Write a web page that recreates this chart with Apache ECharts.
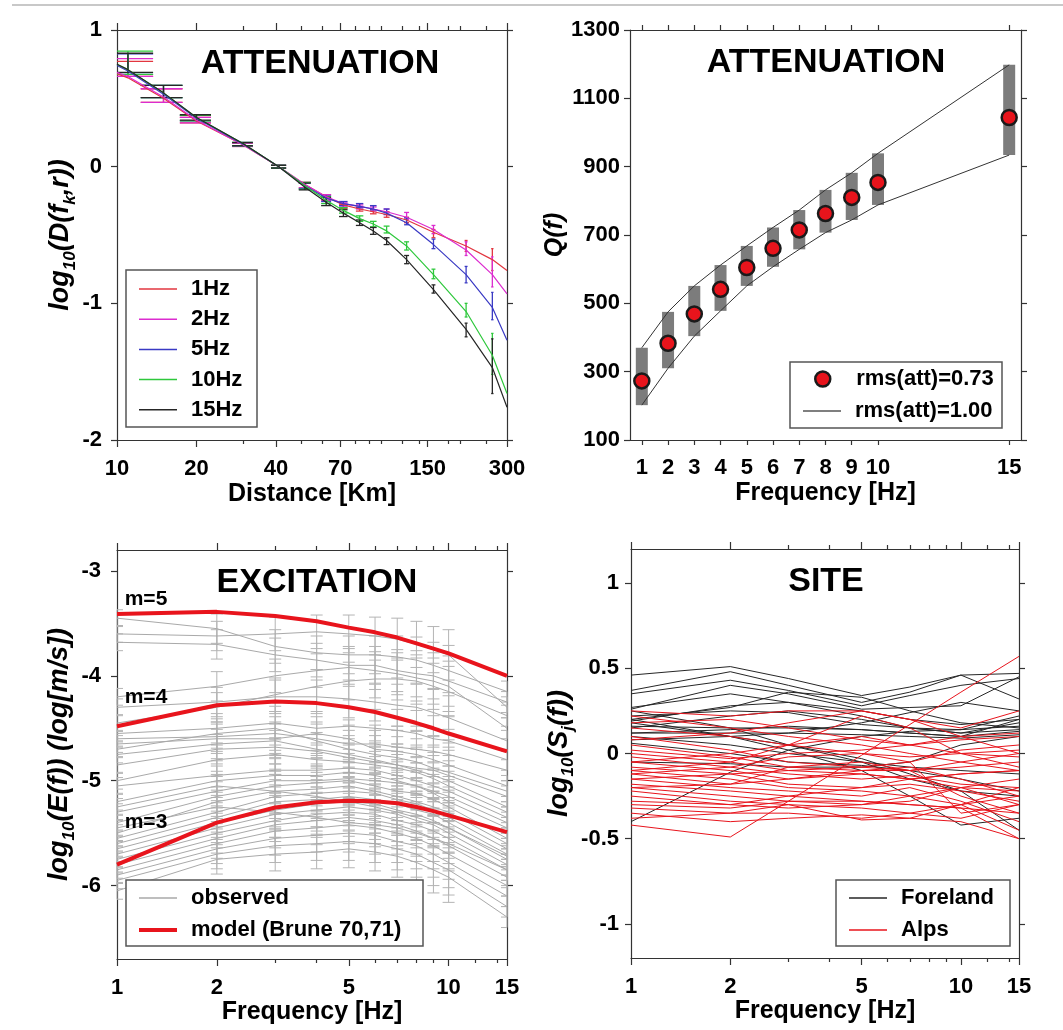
<!DOCTYPE html>
<html>
<head>
<meta charset="utf-8">
<title>Attenuation, excitation and site terms</title>
<script src="https://cdn.jsdelivr.net/npm/echarts@6.0.0/dist/echarts.min.js"></script>
<style>
  html, body { margin: 0; padding: 0; background: #ffffff; }
  #chart { width: 1063px; height: 1030px; }
</style>
</head>
<body>
<div id="chart"></div>
<script>
const lg = Math.log10;
const FONT = "'Liberation Sans', Arial, Helvetica, sans-serif";

// ---------- Attenuation: log10 D(f,r) against distance ----------
const attLabels = ['1Hz', '2Hz', '5Hz', '10Hz', '15Hz'];
const attColors = ['#e2363f', '#dc2ccf', '#3a3ac4', '#2ec83c', '#262626'];
const curveDist = [10, 11, 15, 20, 30, 41, 51.5, 62, 72, 83, 93.5, 105, 125, 158, 210, 264, 300];
const curve1Hz  = [0.68, 0.65, 0.50, 0.335, 0.16, 0.0, -0.13, -0.22, -0.28, -0.31, -0.33, -0.35, -0.39, -0.48, -0.58, -0.68, -0.76];
const curve2Hz  = [0.69, 0.66, 0.51, 0.34, 0.16, 0.0, -0.13, -0.22, -0.27, -0.29, -0.31, -0.33, -0.37, -0.46, -0.61, -0.79, -0.93];
const curve5Hz  = [0.74, 0.70, 0.53, 0.355, 0.165, 0.0, -0.14, -0.23, -0.27, -0.29, -0.31, -0.34, -0.41, -0.57, -0.79, -1.03, -1.27];
const curve10Hz = [0.75, 0.71, 0.54, 0.36, 0.17, 0.0, -0.14, -0.245, -0.32, -0.38, -0.42, -0.47, -0.58, -0.79, -1.06, -1.38, -1.66];
const curve15Hz = [0.75, 0.71, 0.54, 0.36, 0.17, 0.0, -0.15, -0.26, -0.34, -0.41, -0.47, -0.54, -0.68, -0.90, -1.19, -1.47, -1.76];

const binDist = [11, 15, 20, 30, 41, 51.5, 62, 72, 83, 93.5, 105, 125, 158, 210, 264];
const obsMean1Hz  = [0.715, 0.52, 0.34, 0.16, 0.0, -0.135, -0.225, -0.29, -0.31, -0.33, -0.35, -0.39, -0.49, -0.58, -0.68];
const obsErr1Hz   = [0.055, 0.05, 0.02, 0.012, 0.01, 0.02, 0.02, 0.015, 0.015, 0.015, 0.02, 0.02, 0.03, 0.04, 0.08];
const obsMean2Hz  = [0.725, 0.52, 0.34, 0.16, 0.0, -0.135, -0.225, -0.28, -0.295, -0.31, -0.33, -0.36, -0.46, -0.60, -0.77];
const obsErr2Hz   = [0.065, 0.05, 0.02, 0.012, 0.01, 0.02, 0.02, 0.015, 0.015, 0.015, 0.02, 0.025, 0.03, 0.05, 0.11];
const obsMean5Hz  = [0.75, 0.55, 0.355, 0.165, 0.0, -0.14, -0.235, -0.27, -0.285, -0.30, -0.33, -0.40, -0.565, -0.79, -1.02];
const obsErr5Hz   = [0.075, 0.045, 0.02, 0.012, 0.01, 0.02, 0.02, 0.015, 0.015, 0.015, 0.02, 0.025, 0.035, 0.06, 0.10];
const obsMean10Hz = [0.76, 0.55, 0.355, 0.165, 0.0, -0.14, -0.245, -0.32, -0.38, -0.42, -0.46, -0.58, -0.785, -1.05, -1.37];
const obsErr10Hz  = [0.085, 0.045, 0.02, 0.012, 0.01, 0.025, 0.025, 0.02, 0.02, 0.02, 0.025, 0.03, 0.035, 0.05, 0.15];
const obsMean15Hz = [0.76, 0.55, 0.36, 0.165, 0.0, -0.145, -0.255, -0.34, -0.41, -0.47, -0.545, -0.68, -0.895, -1.195, -1.46];
const obsErr15Hz  = [0.07, 0.045, 0.02, 0.012, 0.01, 0.025, 0.03, 0.025, 0.02, 0.025, 0.025, 0.03, 0.03, 0.05, 0.20];

const distTicks = [10, 20, 40, 70, 150, 300];
const distMinorTicks = [30, 50, 60, 80, 90, 100, 120, 140, 180, 200, 250];
const attTicks = [-2, -1, 0, 1];

// ---------- Quality factor Q(f) ----------
const qFreq = [1, 2, 3, 4, 5, 6, 7, 8, 9, 10, 15];
const qBest = [273, 383, 469, 541, 605, 661, 715, 763, 810, 854, 1044];
const qLow  = [202, 310, 404, 478, 551, 607, 658, 707, 744, 788, 934];
const qHigh = [370, 475, 551, 612, 668, 722, 773, 832, 882, 939, 1198];
const qFreqTicks = [1, 2, 3, 4, 5, 6, 7, 8, 9, 10, 15];
const qTicks = [100, 300, 500, 700, 900, 1100, 1300];

// ---------- Source excitation ----------
const excFreq = [1, 2, 3, 4, 5, 6, 7, 8, 9, 10, 15];
const modelM5 = [-3.41, -3.39, -3.43, -3.48, -3.54, -3.585, -3.635, -3.69, -3.74, -3.785, -4.00];
const modelM4 = [-4.48, -4.28, -4.245, -4.26, -4.30, -4.345, -4.40, -4.45, -4.50, -4.55, -4.72];
const modelM3 = [-5.80, -5.40, -5.255, -5.205, -5.19, -5.195, -5.215, -5.25, -5.29, -5.33, -5.49];
const excErr  = [0.08, 0.14, 0.16, 0.16, 0.18, 0.18, 0.20, 0.22, 0.22, 0.24, 0.10];
const observedExc = [
  [-3.45, -3.55, -3.72, -3.78, -3.80, -3.80, -3.82, -3.85, -3.90, -3.95, -4.15],
  [-3.60, -3.62, -3.60, -3.58, -3.60, -3.62, -3.65, -3.70, -3.75, -3.80, -4.30],
  [-3.68, -3.70, -3.80, -3.85, -3.90, -3.90, -3.95, -3.98, -4.00, -4.05, -4.25],
  [-4.20, -4.10, -4.00, -3.95, -3.92, -3.95, -3.98, -4.02, -4.05, -4.10, -4.50],
  [-4.45, -4.30, -4.18, -4.10, -4.05, -4.03, -4.03, -4.05, -4.10, -4.15, -4.38],
  [-4.30, -4.25, -4.20, -4.20, -4.22, -4.25, -4.28, -4.30, -4.35, -4.40, -4.62],
  [-4.55, -4.50, -4.45, -4.50, -4.48, -4.50, -4.52, -4.55, -4.60, -4.62, -4.80],
  [-4.60, -4.58, -4.55, -4.60, -4.65, -4.65, -4.68, -4.70, -4.72, -4.75, -4.90],
  [-4.65, -4.60, -4.60, -4.55, -4.60, -4.70, -4.72, -4.75, -4.80, -4.85, -5.05],
  [-4.70, -4.55, -4.50, -4.62, -4.70, -4.75, -4.78, -4.82, -4.88, -4.92, -5.10],
  [-4.75, -4.65, -4.62, -4.70, -4.75, -4.80, -4.85, -4.88, -4.90, -4.95, -5.15],
  [-4.85, -4.70, -4.68, -4.72, -4.78, -4.82, -4.85, -4.90, -4.95, -5.00, -5.25],
  [-5.00, -4.80, -4.75, -4.80, -4.82, -4.85, -4.88, -4.92, -4.98, -5.05, -5.30],
  [-5.05, -4.95, -4.90, -4.90, -4.88, -4.90, -4.95, -5.00, -5.05, -5.10, -5.35],
  [-5.20, -5.00, -4.95, -4.95, -4.92, -4.95, -5.00, -5.05, -5.10, -5.15, -5.40],
  [-5.30, -5.10, -5.00, -5.00, -4.98, -5.00, -5.02, -5.05, -5.12, -5.20, -5.45],
  [-5.40, -5.15, -5.05, -5.02, -5.00, -5.05, -5.10, -5.12, -5.18, -5.25, -5.55],
  [-5.50, -5.20, -5.10, -5.08, -5.05, -5.10, -5.15, -5.20, -5.25, -5.30, -5.60],
  [-5.55, -5.30, -5.15, -5.12, -5.10, -5.12, -5.18, -5.22, -5.28, -5.35, -5.65],
  [-5.60, -5.35, -5.20, -5.18, -5.15, -5.18, -5.22, -5.28, -5.32, -5.40, -5.70],
  [-5.65, -5.40, -5.28, -5.22, -5.20, -5.22, -5.28, -5.32, -5.38, -5.45, -5.75],
  [-5.70, -5.45, -5.32, -5.28, -5.25, -5.28, -5.32, -5.38, -5.42, -5.50, -5.80],
  [-5.75, -5.50, -5.38, -5.32, -5.30, -5.32, -5.38, -5.42, -5.48, -5.55, -5.85],
  [-5.80, -5.55, -5.42, -5.38, -5.35, -5.38, -5.42, -5.48, -5.55, -5.62, -5.92],
  [-5.85, -5.60, -5.48, -5.45, -5.42, -5.45, -5.50, -5.55, -5.62, -5.70, -6.00],
  [-5.90, -5.65, -5.55, -5.52, -5.50, -5.52, -5.58, -5.62, -5.70, -5.78, -6.10],
  [-5.95, -5.70, -5.62, -5.60, -5.58, -5.60, -5.65, -5.70, -5.78, -5.85, -6.20],
  [-6.05, -5.75, -5.70, -5.68, -5.65, -5.68, -5.72, -5.78, -5.85, -5.92, -6.30],
  [-5.45, -5.25, -5.30, -5.35, -5.40, -5.42, -5.45, -5.50, -5.55, -5.60, -5.85],
  [-5.25, -5.05, -5.10, -5.15, -5.20, -5.25, -5.30, -5.35, -5.40, -5.45, -5.72]
];
const excTicks = [-6, -5, -4, -3];

// ---------- Site terms ----------
const siteFreq = [1, 2, 3, 5, 7, 10, 15];
const forelandSites = [
  [0.46, 0.51, 0.44, 0.34, 0.39, 0.46, 0.47],
  [0.37, 0.48, 0.40, 0.30, 0.36, 0.46, 0.32],
  [0.35, 0.43, 0.37, 0.28, 0.34, 0.40, 0.44],
  [0.26, 0.40, 0.35, 0.26, 0.27, 0.28, 0.45],
  [0.27, 0.35, 0.30, 0.25, 0.20, 0.17, 0.20],
  [0.20, 0.27, 0.36, 0.33, 0.25, 0.18, 0.15],
  [0.19, 0.28, 0.30, 0.22, 0.15, 0.12, 0.14],
  [0.15, 0.22, 0.25, 0.20, 0.15, 0.12, 0.18],
  [0.16, 0.15, 0.15, 0.14, 0.12, 0.10, 0.13],
  [0.12, 0.12, 0.12, 0.11, 0.10, 0.09, 0.11],
  [0.10, 0.05, 0.00, -0.05, -0.08, -0.10, -0.12],
  [0.18, 0.10, 0.02, -0.10, -0.25, -0.42, -0.38],
  [0.25, 0.15, 0.05, -0.03, -0.12, -0.22, -0.45],
  [-0.40, -0.11, 0.02, 0.10, 0.13, 0.14, 0.16],
  [0.20, 0.10, 0.05, -0.05, -0.15, -0.22, -0.25],
  [-0.05, -0.06, -0.08, -0.08, -0.05, 0.05, 0.10],
  [0.12, 0.14, 0.16, 0.14, 0.12, 0.10, 0.20],
  [0.06, 0.00, -0.05, -0.07, -0.10, -0.15, -0.22],
  [0.22, 0.25, 0.24, 0.17, 0.15, 0.14, 0.22],
  [0.08, 0.10, 0.12, 0.18, 0.24, 0.30, 0.25]
];
const alpsSites = [
  [-0.42, -0.49, -0.28, -0.01, 0.17, 0.36, 0.57],
  [-0.38, -0.35, -0.30, -0.39, -0.38, -0.30, -0.25],
  [0.25, 0.22, 0.25, 0.25, 0.20, 0.15, 0.25],
  [0.22, 0.15, 0.10, 0.05, 0.00, -0.05, -0.10],
  [0.15, 0.10, 0.05, 0.00, -0.02, 0.00, 0.02],
  [0.10, 0.02, -0.05, -0.08, -0.10, -0.05, 0.00],
  [0.05, -0.02, -0.08, -0.10, -0.10, -0.08, -0.05],
  [0.00, -0.05, -0.10, -0.12, -0.15, -0.12, -0.10],
  [-0.02, -0.08, -0.12, -0.15, -0.13, -0.18, -0.20],
  [-0.05, -0.10, -0.15, -0.10, -0.08, -0.15, -0.25],
  [-0.08, -0.12, -0.18, -0.20, -0.18, -0.22, -0.28],
  [-0.10, -0.15, -0.20, -0.22, -0.25, -0.20, -0.30],
  [-0.12, -0.18, -0.08, -0.05, -0.10, -0.25, -0.35],
  [-0.15, -0.20, -0.22, -0.25, -0.20, -0.28, -0.40],
  [-0.18, -0.22, -0.25, -0.28, -0.30, -0.32, -0.50],
  [-0.20, -0.25, -0.28, -0.30, -0.25, -0.30, -0.45],
  [-0.22, -0.28, -0.30, -0.32, -0.35, -0.38, -0.30],
  [-0.25, -0.30, -0.32, -0.30, -0.28, -0.20, -0.15],
  [-0.28, -0.30, -0.25, -0.20, -0.15, -0.12, -0.10],
  [-0.30, -0.32, -0.28, -0.28, -0.30, -0.32, -0.35],
  [-0.32, -0.35, -0.35, -0.38, -0.35, -0.30, -0.20],
  [0.08, 0.12, 0.18, 0.25, 0.20, 0.10, 0.00],
  [-0.05, 0.00, 0.05, 0.10, 0.05, 0.00, -0.02],
  [0.02, -0.03, 0.00, 0.02, 0.05, 0.10, 0.12],
  [-0.15, -0.12, -0.10, -0.08, -0.05, 0.02, 0.05],
  [-0.12, -0.08, -0.02, 0.00, -0.05, -0.35, -0.30],
  [-0.20, -0.18, -0.15, -0.12, -0.15, -0.20, -0.22],
  [0.18, 0.20, 0.15, 0.08, 0.05, 0.08, 0.10],
  [-0.35, -0.40, -0.38, -0.36, -0.38, -0.40, -0.50],
  [-0.10, -0.05, 0.05, 0.22, 0.15, 0.00, -0.08]
];
const freqTicks = [1, 2, 5, 10, 15];
const freqMinorTicks = [3, 4, 6, 7, 8, 9, 12, 14];
const siteTicks = [-1, -0.5, 0, 0.5, 1];

// ---------- shared styles ----------
const axisLineStyle = { color: '#333333', width: 1.2 };
const tickLabelStyle = { fontSize: 22, fontWeight: 'bold', color: '#000', fontFamily: FONT };
const axisNameStyle = { fontSize: 25, fontWeight: 'bold', color: '#000', fontFamily: FONT };
function yNameStyle(main, sub) {
  return {
    rich: {
      a: { fontSize: main, fontWeight: 'bold', fontStyle: 'italic', fontFamily: FONT, color: '#000', lineHeight: main + 8 },
      s: { fontSize: sub, fontWeight: 'bold', fontStyle: 'italic', fontFamily: FONT, color: '#000', lineHeight: sub, verticalAlign: 'bottom' }
    }
  };
}
const powFmt = v => String(Math.round(Math.pow(10, v)));

// ---------- axes: one main cartesian per panel, plus one for minor ticks ----------
const grids = [], xAxes = [], yAxes = [];
function addGrid(rect) {
  grids.push(Object.assign({ containLabel: false, outerBoundsMode: 'none' }, rect));
  return grids.length - 1;
}
function panel(rect, xs, ys) {
  const g = addGrid(rect);
  const xi = xAxes.length, yi = yAxes.length;
  const xBase = { gridIndex: g, type: 'value', min: xs.min, max: xs.max, splitLine: { show: false } };
  xAxes.push(Object.assign({}, xBase, {
    position: 'bottom',
    axisLine: { show: true, onZero: false, lineStyle: axisLineStyle },
    axisTick: { show: true, length: xs.tickLen, customValues: xs.major, lineStyle: axisLineStyle },
    axisLabel: Object.assign({ show: true, customValues: xs.labels, formatter: xs.fmt, margin: xs.margin,
      showMinLabel: true, showMaxLabel: true }, tickLabelStyle),
    name: xs.name, nameLocation: 'middle', nameGap: xs.nameGap, nameTextStyle: axisNameStyle
  }));
  xAxes.push(Object.assign({}, xBase, {
    position: 'top',
    axisLine: { show: true, onZero: false, lineStyle: axisLineStyle },
    axisTick: { show: true, length: xs.tickLen, customValues: xs.major, lineStyle: axisLineStyle },
    axisLabel: { show: false }
  }));
  const yBase = { gridIndex: g, type: 'value', min: ys.min, max: ys.max, splitLine: { show: false } };
  yAxes.push(Object.assign({}, yBase, {
    position: 'left',
    axisLine: { show: true, onZero: false, lineStyle: axisLineStyle },
    axisTick: { show: true, length: 6, customValues: ys.ticks, lineStyle: axisLineStyle },
    axisLabel: Object.assign({ show: true, customValues: ys.ticks, formatter: v => String(v), margin: ys.margin,
      showMinLabel: true, showMaxLabel: true }, tickLabelStyle),
    name: ys.name, nameLocation: 'middle', nameGap: ys.nameGap, nameRotate: 90, nameTextStyle: ys.nameStyle
  }));
  yAxes.push(Object.assign({}, yBase, {
    position: 'right',
    axisLine: { show: true, onZero: false, lineStyle: axisLineStyle },
    axisTick: { show: true, length: 6, customValues: ys.ticks, lineStyle: axisLineStyle },
    axisLabel: { show: false }
  }));
  if (xs.minor) {
    const g2 = addGrid(rect);
    const mBase = { gridIndex: g2, type: 'value', min: xs.min, max: xs.max, splitLine: { show: false },
      axisLine: { show: false, onZero: false }, axisLabel: { show: false } };
    xAxes.push(Object.assign({}, mBase, { position: 'bottom',
      axisTick: { show: true, length: 4, customValues: xs.minor, lineStyle: axisLineStyle } }));
    xAxes.push(Object.assign({}, mBase, { position: 'top',
      axisTick: { show: true, length: 4, customValues: xs.minor, lineStyle: axisLineStyle } }));
    yAxes.push({ gridIndex: g2, type: 'value', min: ys.min, max: ys.max, show: false,
      axisLine: { show: false, onZero: false } });
  }
  return { xAxisIndex: xi, yAxisIndex: yi };
}

const pAtt = panel({ left: 117, top: 30, width: 390, height: 410 },
  { min: lg(10), max: lg(300), major: distTicks.map(lg), labels: distTicks.map(lg), minor: distMinorTicks.map(lg),
    fmt: powFmt, margin: 18, tickLen: 7, name: 'Distance [Km]', nameGap: 42 },
  { min: -2, max: 1, ticks: attTicks, margin: 15, name: '{a|log}{s|10}{a|(D(f}{s|k}{a|,r))}', nameGap: 36,
    nameStyle: yNameStyle(27, 17) });
const pQ = panel({ left: 630, top: 30, width: 391, height: 410 },
  { min: 0.55, max: 15.45, major: qFreqTicks, labels: qFreqTicks, fmt: v => String(v), margin: 17, tickLen: 5,
    name: 'Frequency [Hz]', nameGap: 41 },
  { min: 100, max: 1300, ticks: qTicks, margin: 10, name: 'Q(f)', nameGap: 44,
    nameStyle: { fontSize: 25, fontWeight: 'bold', fontStyle: 'italic', fontFamily: FONT, color: '#000' } });
const pExc = panel({ left: 117, top: 550, width: 390, height: 409 },
  { min: 0, max: lg(15), major: freqTicks.map(lg), labels: freqTicks.map(lg), minor: freqMinorTicks.map(lg),
    fmt: powFmt, margin: 18, tickLen: 7, name: 'Frequency [Hz]', nameGap: 39 },
  { min: -6.7, max: -2.8, ticks: excTicks, margin: 16, name: '{a|log}{s|10}{a|(E(f)) (log[m/s])}', nameGap: 36,
    nameStyle: yNameStyle(27, 17) });
const pSite = panel({ left: 631, top: 549, width: 388, height: 409 },
  { min: 0, max: lg(15), major: freqTicks.map(lg), labels: freqTicks.map(lg), minor: freqMinorTicks.map(lg),
    fmt: powFmt, margin: 18, tickLen: 7, name: 'Frequency [Hz]', nameGap: 39 },
  { min: -1.2, max: 1.2, ticks: siteTicks, margin: 12, name: '{a|log}{s|10}{a|(S}{s|j}{a|(f))}', nameGap: 40,
    nameStyle: yNameStyle(27, 17) });

// ---------- custom renderers ----------
function clampX(cs, v) { return Math.max(cs.x, Math.min(cs.x + cs.width, v)); }

// vertical error bar whose caps span a fixed distance range (dims 3 and 4)
function distErrorBar(params, api) {
  const cs = params.coordSys;
  const x = api.value(0), m = api.value(1), e = api.value(2);
  const top = api.coord([x, m + e]), bot = api.coord([x, m - e]);
  const xl = clampX(cs, api.coord([api.value(3), m])[0]);
  const xr = clampX(cs, api.coord([api.value(4), m])[0]);
  const style = { stroke: api.visual('color'), lineWidth: 1.3 };
  return { type: 'group', children: [
    { type: 'line', shape: { x1: top[0], y1: top[1], x2: bot[0], y2: bot[1] }, style },
    { type: 'line', shape: { x1: xl, y1: top[1], x2: xr, y2: top[1] }, style },
    { type: 'line', shape: { x1: xl, y1: bot[1], x2: xr, y2: bot[1] }, style }
  ] };
}
// vertical error bar with short caps, for the excitation observations
function freqErrorBar(params, api) {
  const cs = params.coordSys;
  const x = api.value(0), m = api.value(1), e = api.value(2);
  const top = api.coord([x, m + e]), bot = api.coord([x, m - e]);
  const xl = clampX(cs, top[0] - 6), xr = clampX(cs, top[0] + 6);
  const style = { stroke: api.visual('color'), lineWidth: 1 };
  return { type: 'group', children: [
    { type: 'line', shape: { x1: top[0], y1: top[1], x2: bot[0], y2: bot[1] }, style },
    { type: 'line', shape: { x1: xl, y1: top[1], x2: xr, y2: top[1] }, style },
    { type: 'line', shape: { x1: xl, y1: bot[1], x2: xr, y2: bot[1] }, style }
  ] };
}
// grey range bar for Q(f)
function qRangeBar(params, api) {
  const x = api.value(0);
  const lo = api.coord([x, api.value(1)]), hi = api.coord([x, api.value(2)]);
  return { type: 'rect', shape: { x: lo[0] - 6, y: hi[1], width: 12, height: lo[1] - hi[1] },
    style: { fill: api.visual('color') } };
}

// ---------- series ----------
const series = [];
const capKm = 2.7;
const attCurves = [curve1Hz, curve2Hz, curve5Hz, curve10Hz, curve15Hz];
const attMeans = [obsMean1Hz, obsMean2Hz, obsMean5Hz, obsMean10Hz, obsMean15Hz];
const attErrs = [obsErr1Hz, obsErr2Hz, obsErr5Hz, obsErr10Hz, obsErr15Hz];
attLabels.forEach((name, i) => {
  series.push(Object.assign({
    name, type: 'line', symbol: 'none', silent: true, z: 2,
    lineStyle: { color: attColors[i], width: 1.2 }, itemStyle: { color: attColors[i] },
    data: curveDist.map((d, j) => [lg(d), attCurves[i][j]])
  }, pAtt));
});
attLabels.forEach((name, i) => {
  series.push(Object.assign({
    name, type: 'custom', silent: true, z: 2, itemStyle: { color: attColors[i] },
    renderItem: distErrorBar,
    data: binDist.map((d, j) => [lg(d), attMeans[i][j], attErrs[i][j], lg(d - capKm), lg(d + capKm)])
  }, pAtt));
});

series.push(Object.assign({
  name: 'Q range', type: 'custom', silent: true, z: 2, itemStyle: { color: '#7c7c7c' },
  renderItem: qRangeBar, data: qFreq.map((f, j) => [f, qLow[j], qHigh[j]])
}, pQ));
series.push(Object.assign({
  name: 'rms(att)=1.00', type: 'line', symbol: 'none', silent: true, z: 3,
  lineStyle: { color: '#333333', width: 1 }, itemStyle: { color: '#333333' },
  data: qFreq.map((f, j) => [f, qHigh[j]])
}, pQ));
series.push(Object.assign({
  name: 'rms(att)=1.00', type: 'line', symbol: 'none', silent: true, z: 3,
  lineStyle: { color: '#333333', width: 1 }, itemStyle: { color: '#333333' },
  data: qFreq.map((f, j) => [f, qLow[j]])
}, pQ));
series.push(Object.assign({
  name: 'rms(att)=0.73', type: 'scatter', symbol: 'circle', symbolSize: 15, silent: true, z: 4,
  itemStyle: { color: '#e8141c', borderColor: '#1a1a1a', borderWidth: 2.5, opacity: 1 },
  data: qFreq.map((f, j) => [f, qBest[j]])
}, pQ));

observedExc.forEach(vals => {
  series.push(Object.assign({
    name: 'observed', type: 'line', symbol: 'none', silent: true, z: 2,
    lineStyle: { color: '#a9a9a9', width: 1 }, itemStyle: { color: '#a9a9a9' },
    data: excFreq.map((f, j) => [lg(f), vals[j]])
  }, pExc));
});
series.push(Object.assign({
  name: 'observed', type: 'custom', silent: true, z: 2, itemStyle: { color: '#b4b4b4' },
  renderItem: freqErrorBar,
  data: observedExc.flatMap(vals => excFreq.map((f, j) => [lg(f), vals[j], excErr[j]]))
}, pExc));
[modelM5, modelM4, modelM3].forEach(vals => {
  series.push(Object.assign({
    name: 'model (Brune 70,71)', type: 'line', symbol: 'none', silent: true, z: 3,
    lineStyle: { color: '#e8141c', width: 4 }, itemStyle: { color: '#e8141c' },
    data: excFreq.map((f, j) => [lg(f), vals[j]])
  }, pExc));
});

forelandSites.forEach(vals => {
  series.push(Object.assign({
    name: 'Foreland', type: 'line', symbol: 'none', silent: true, z: 2,
    lineStyle: { color: '#262626', width: 1 }, itemStyle: { color: '#262626' },
    data: siteFreq.map((f, j) => [lg(f), vals[j]])
  }, pSite));
});
alpsSites.forEach(vals => {
  series.push(Object.assign({
    name: 'Alps', type: 'line', symbol: 'none', silent: true, z: 2,
    lineStyle: { color: '#e8141c', width: 1 }, itemStyle: { color: '#e8141c' },
    data: siteFreq.map((f, j) => [lg(f), vals[j]])
  }, pSite));
});

// ---------- legends (line keys drawn as thin bars) ----------
const legendText = { fontSize: 22, fontWeight: 'bold', color: '#000', fontFamily: FONT, lineHeight: 22, padding: [0, 0, 0, 9] };
const legendBase = { orient: 'vertical', icon: 'rect', itemWidth: 38, itemHeight: 1.5, padding: 0,
  selectedMode: false, textStyle: legendText };
const key = (name, color) => ({ name, icon: 'rect', itemStyle: { color, borderWidth: 0, opacity: 1 } });
const legends = [
  Object.assign({}, legendBase, { left: 139, top: 278, itemGap: 8.2,
    data: attLabels.map((n, i) => key(n, attColors[i])) }),
  Object.assign({}, legendBase, { left: 814, top: 368, icon: 'circle', itemWidth: 15, itemHeight: 15,
    textStyle: Object.assign({}, legendText, { padding: [0, 0, 0, 21] }),
    data: [{ name: 'rms(att)=0.73', icon: 'circle', itemStyle: { color: '#e8141c', borderColor: '#1a1a1a', borderWidth: 2.5 } }] }),
  Object.assign({}, legendBase, { left: 803, top: 400, data: [key('rms(att)=1.00', '#555555')] }),
  Object.assign({}, legendBase, { left: 139, top: 887, data: [key('observed', '#a9a9a9')] }),
  Object.assign({}, legendBase, { left: 139, top: 919, itemHeight: 4, data: [key('model (Brune 70,71)', '#e8141c')] }),
  Object.assign({}, legendBase, { left: 849, top: 887, itemGap: 10,
    data: [key('Foreland', '#262626'), key('Alps', '#e8141c')] })
];

// ---------- titles, annotations, legend frames ----------
const boxStyle = { fill: '#ffffff', stroke: '#555555', lineWidth: 1.5 };
const titleFont = `bold 34px ${FONT}`;
const graphics = [
  { type: 'line', z: 5, shape: { x1: 12, y1: 5, x2: 1063, y2: 5 }, style: { stroke: '#c8c8c8', lineWidth: 2 } },
  { type: 'rect', z: 3, shape: { x: 126, y: 270, width: 131, height: 157 }, style: boxStyle },
  { type: 'rect', z: 3, shape: { x: 790, y: 362, width: 212, height: 66 }, style: boxStyle },
  { type: 'rect', z: 3, shape: { x: 126, y: 880, width: 297, height: 66 }, style: boxStyle },
  { type: 'rect', z: 3, shape: { x: 836, y: 880, width: 174, height: 66 }, style: boxStyle },
  { type: 'text', z: 5, x: 320, y: 64, style: { text: 'ATTENUATION', font: titleFont, fill: '#000', align: 'center', verticalAlign: 'middle' } },
  { type: 'text', z: 5, x: 826, y: 63, style: { text: 'ATTENUATION', font: titleFont, fill: '#000', align: 'center', verticalAlign: 'middle' } },
  { type: 'text', z: 5, x: 317, y: 583, style: { text: 'EXCITATION', font: titleFont, fill: '#000', align: 'center', verticalAlign: 'middle' } },
  { type: 'text', z: 5, x: 826, y: 582, style: { text: 'SITE', font: titleFont, fill: '#000', align: 'center', verticalAlign: 'middle' } },
  { type: 'text', z: 5, x: 146, y: 599, style: { text: 'm=5', font: `bold 21px ${FONT}`, fill: '#000', align: 'center', verticalAlign: 'middle' } },
  { type: 'text', z: 5, x: 146, y: 697, style: { text: 'm=4', font: `bold 21px ${FONT}`, fill: '#000', align: 'center', verticalAlign: 'middle' } },
  { type: 'text', z: 5, x: 146, y: 822, style: { text: 'm=3', font: `bold 21px ${FONT}`, fill: '#000', align: 'center', verticalAlign: 'middle' } }
];

const chart = echarts.init(document.getElementById('chart'), null, { renderer: 'canvas' });
chart.setOption({
  backgroundColor: '#ffffff',
  animation: false,
  textStyle: { fontFamily: FONT },
  grid: grids,
  xAxis: xAxes,
  yAxis: yAxes,
  legend: legends,
  graphic: { elements: graphics },
  series
});
</script>
</body>
</html>
